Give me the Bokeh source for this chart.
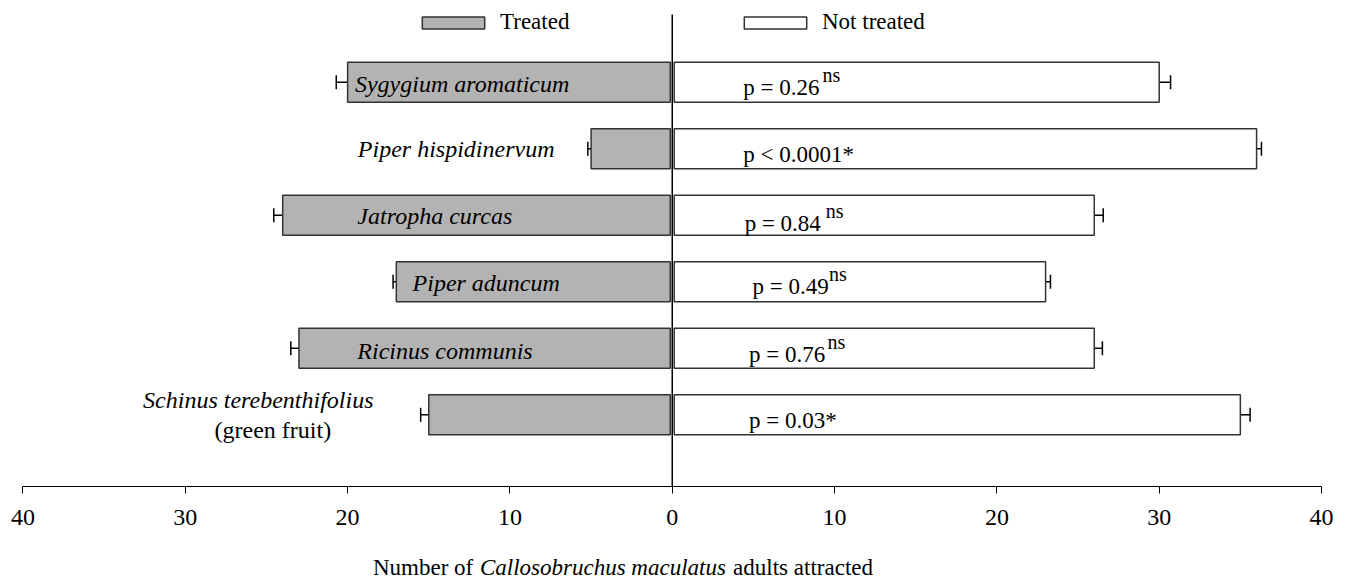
from bokeh.plotting import figure
from bokeh.models import (Range1d, FixedTicker, Whisker, TeeHead, ColumnDataSource,
                          Legend, LegendItem)
from bokeh.core.properties import value
from bokeh.embed import file_html
from bokeh.resources import INLINE

# ---------------- data ----------------
species = ["Sygygium aromaticum", "Piper hispidinervum", "Jatropha curcas",
           "Piper aduncum", "Ricinus communis", "Schinus terebenthifolius"]
species_note = ["", "", "", "", "", "(green fruit)"]
treated = [20.0, 5.0, 24.0, 17.0, 23.0, 15.0]
treated_err = [0.7, 0.2, 0.55, 0.2, 0.5, 0.5]
not_treated = [30.0, 36.0, 26.0, 23.0, 26.0, 35.0]
not_treated_err = [0.7, 0.3, 0.55, 0.3, 0.5, 0.6]
p_texts = ["p = 0.26", "p < 0.0001*", "p = 0.84", "p = 0.49", "p = 0.76", "p = 0.03*"]
p_marks = ["ns", "", "ns", "ns", "ns", ""]
x_ticks = [-40, -30, -20, -10, 0, 10, 20, 30, 40]
x_tick_labels = ["40", "30", "20", "10", "0", "10", "20", "30", "40"]
legend_labels = ["Treated", "Not treated"]
title_parts = ["Number of", "Callosobruchus maculatus", "adults attracted"]
title_styles = ["normal", "italic", "normal"]

# ---------------- layout (label placement) ----------------
rows = [6, 5, 4, 3, 2, 1]
species_x = [-19.55, -19.37, -19.4, -16.0, -19.4, -32.6]
species_dy = [1.5, 0.5, 0.7, 1.3, 3.0, -14.3]
note_x = [0, 0, 0, 0, 0, -28.2]
note_dy = [0, 0, 0, 0, 0, 15.0]
p_x = [4.38, 4.38, 4.46, 4.94, 4.73, 4.73]
p_dy = [5.5, 5.9, 8.5, 4.9, 6.4, 5.9]
ns_x = [9.25, 0, 9.45, 9.66, 9.56, 0]
title_x = [-18.44, -11.85, 3.75]
AXIS_Y = -0.072
TITLE_Y = -1.29
LINE_TOP = 7.018
X_START, X_END = -41.386, 41.17

FONT = "Liberation Serif"
GRAY = "#b3b3b3"
EDGE = "#333333"
GAP = 0.12

p = figure(width=1340, height=579, output_backend="svg", toolbar_location=None,
           x_range=Range1d(X_START, X_END), y_range=Range1d(-1.476, 7.228),
           y_axis_location=None, min_border_left=0, min_border_right=0,
           min_border_top=0, min_border_bottom=0)
p.xgrid.visible = False
p.ygrid.visible = False
p.outline_line_color = None
p.background_fill_color = "white"
p.border_fill_color = "white"

bars = ColumnDataSource(dict(
    y=rows,
    t_left=[-v for v in treated], t_right=[-GAP] * len(rows),
    n_left=[GAP] * len(rows), n_right=not_treated,
    t_lo=[-(v + e) for v, e in zip(treated, treated_err)], t_hi=[-v for v in treated],
    n_lo=not_treated, n_hi=[v + e for v, e in zip(not_treated, not_treated_err)],
))

r_t = p.hbar(y="y", left="t_left", right="t_right", height=0.6, source=bars,
             fill_color=GRAY, line_color=EDGE, line_width=1.5)
r_n = p.hbar(y="y", left="n_left", right="n_right", height=0.6, source=bars,
             fill_color="white", line_color=EDGE, line_width=1.5)

w_t = Whisker(source=bars, base="y", lower="t_lo", upper="t_hi", dimension="width",
              line_color="black", line_width=1.5, upper_head=None,
              lower_head=TeeHead(size=14, line_color="black", line_width=1.5))
w_n = Whisker(source=bars, base="y", lower="n_lo", upper="n_hi", dimension="width",
              line_color="black", line_width=1.5, lower_head=None,
              upper_head=TeeHead(size=14, line_color="black", line_width=1.5))
p.add_layout(w_t)
p.add_layout(w_n)

# centre line
p.segment(x0=[0], y0=[AXIS_Y], x1=[0], y1=[LINE_TOP], line_color="black", line_width=1.5)

# species labels
sp = ColumnDataSource(dict(x=species_x, y=rows, t=species, dy=species_dy))
p.text(x="x", y="y", text="t", y_offset="dy", source=sp, text_font=value(FONT),
       text_font_style="italic", text_font_size="24px", text_baseline="middle",
       text_color="black")
nt_idx = [i for i, s in enumerate(species_note) if s]
nt = ColumnDataSource(dict(x=[note_x[i] for i in nt_idx], y=[rows[i] for i in nt_idx],
                           t=[species_note[i] for i in nt_idx], dy=[note_dy[i] for i in nt_idx]))
p.text(x="x", y="y", text="t", y_offset="dy", source=nt, text_font=value(FONT),
       text_font_size="24px", text_baseline="middle", text_color="black")

# p-values
ps = ColumnDataSource(dict(x=p_x, y=rows, t=p_texts, dy=p_dy))
p.text(x="x", y="y", text="t", y_offset="dy", source=ps, text_font=value(FONT),
       text_font_size="23px", text_baseline="middle", text_color="black")
ns_idx = [i for i, s in enumerate(p_marks) if s]
nss = ColumnDataSource(dict(x=[ns_x[i] for i in ns_idx], y=[rows[i] for i in ns_idx],
                            t=[p_marks[i] for i in ns_idx], dy=[p_dy[i] - 12.5 for i in ns_idx]))
p.text(x="x", y="y", text="t", y_offset="dy", source=nss, text_font=value(FONT),
       text_font_size="20px", text_baseline="middle", text_color="black")

# x axis, drawn inside the frame at a fixed location
ax = p.xaxis[0]
ax.fixed_location = AXIS_Y
ax.bounds = (-40, 40)
ax.ticker = FixedTicker(ticks=x_ticks)
ax.major_label_overrides = {t: l for t, l in zip(x_ticks, x_tick_labels)}
ax.minor_tick_line_color = None
ax.major_tick_in = 0
ax.major_tick_out = 7
ax.axis_line_color = "black"
ax.major_tick_line_color = "black"
ax.major_label_text_font = FONT
ax.major_label_text_font_size = "24px"
ax.major_label_text_color = "black"
ax.major_label_standoff = 17

# axis title (mixed upright / italic)
ts = ColumnDataSource(dict(x=title_x, y=[TITLE_Y] * 3, t=title_parts, st=title_styles))
p.text(x="x", y="y", text="t", text_font_style="st", source=ts, text_font=value(FONT),
       text_font_size="23px", text_baseline="middle", text_color="black")

# legends
for lab, rend, lx in [(legend_labels[0], r_t, 414), (legend_labels[1], r_n, 736)]:
    lg = Legend(items=[LegendItem(label=lab, renderers=[rend])], location=(lx, 544),
                orientation="horizontal", border_line_color=None, background_fill_alpha=0,
                padding=0, margin=0, glyph_width=78, glyph_height=15, label_standoff=8,
                label_height=26, label_text_font=FONT, label_text_font_size="23px",
                label_text_color="black")
    p.add_layout(lg)

open("out.html", "w").write(file_html(p, INLINE))
